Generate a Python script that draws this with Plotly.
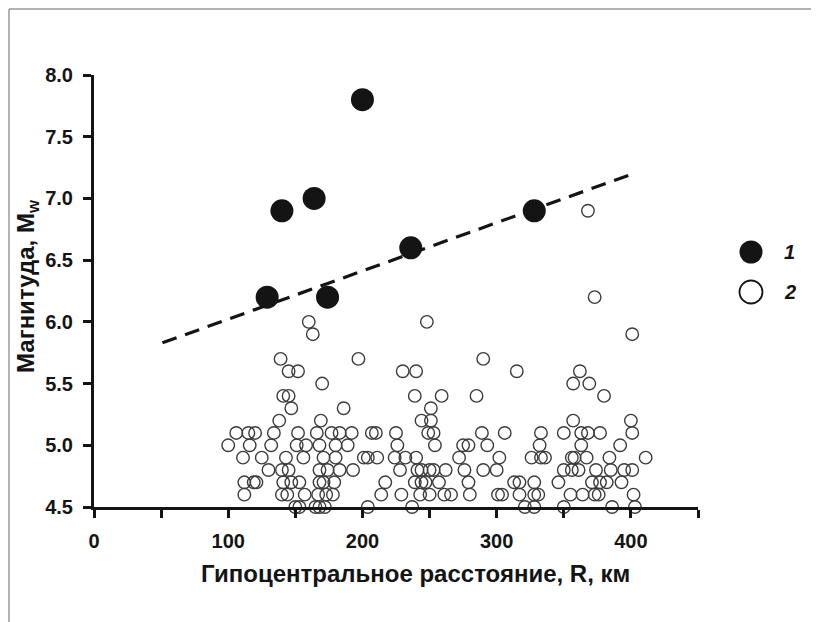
import plotly.graph_objects as go

# Series 1: strong earthquakes (filled)
r1 = [129, 140, 164, 174, 200, 236, 328]
m1 = [6.2, 6.9, 7.0, 6.2, 7.8, 6.6, 6.9]

# Series 2: other events (open circles)
r2 = [368, 373, 160, 248, 163, 401, 139, 197, 290,
      145, 152, 230, 240, 315, 362, 170, 357, 369,
      141, 145, 239, 259, 285, 380, 147, 186, 251,
      138, 169, 244, 251, 357, 400,
      106, 115, 120, 134, 152, 166, 177, 183, 192, 207, 210, 225, 249, 253, 289, 306, 333, 350, 363, 368, 377, 401,
      100, 116, 132, 151, 158, 168, 180, 189, 226, 254, 275, 279, 293, 332, 363, 392,
      111, 125, 143, 156, 171, 180, 201, 204, 211, 224, 232, 240, 272, 302, 326, 333, 336, 356, 358, 367, 384, 411,
      130, 140, 145, 168, 174, 183, 193, 228, 241, 244, 250, 253, 262, 276, 290, 300, 350, 356, 361, 374, 385, 395, 401,
      112, 119, 121, 141, 147, 153, 168, 171, 179, 217, 239, 244, 247, 257, 279, 313, 317, 328, 346, 371, 377, 382, 393,
      112, 140, 144, 157, 167, 173, 178, 214, 229, 243, 250, 261, 266, 280, 301, 304, 317, 328, 331, 355, 364, 373, 376, 402,
      150, 153, 165, 168, 172, 204, 237, 321, 328, 350, 386, 403]
m2 = [6.9, 6.2, 6.0, 6.0, 5.9, 5.9, 5.7, 5.7, 5.7,
      5.6, 5.6, 5.6, 5.6, 5.6, 5.6, 5.5, 5.5, 5.5,
      5.4, 5.4, 5.4, 5.4, 5.4, 5.4, 5.3, 5.3, 5.3,
      5.2, 5.2, 5.2, 5.2, 5.2, 5.2,
      5.1, 5.1, 5.1, 5.1, 5.1, 5.1, 5.1, 5.1, 5.1, 5.1, 5.1, 5.1, 5.1, 5.1, 5.1, 5.1, 5.1, 5.1, 5.1, 5.1, 5.1, 5.1,
      5.0, 5.0, 5.0, 5.0, 5.0, 5.0, 5.0, 5.0, 5.0, 5.0, 5.0, 5.0, 5.0, 5.0, 5.0, 5.0,
      4.9, 4.9, 4.9, 4.9, 4.9, 4.9, 4.9, 4.9, 4.9, 4.9, 4.9, 4.9, 4.9, 4.9, 4.9, 4.9, 4.9, 4.9, 4.9, 4.9, 4.9, 4.9,
      4.8, 4.8, 4.8, 4.8, 4.8, 4.8, 4.8, 4.8, 4.8, 4.8, 4.8, 4.8, 4.8, 4.8, 4.8, 4.8, 4.8, 4.8, 4.8, 4.8, 4.8, 4.8, 4.8,
      4.7, 4.7, 4.7, 4.7, 4.7, 4.7, 4.7, 4.7, 4.7, 4.7, 4.7, 4.7, 4.7, 4.7, 4.7, 4.7, 4.7, 4.7, 4.7, 4.7, 4.7, 4.7, 4.7,
      4.6, 4.6, 4.6, 4.6, 4.6, 4.6, 4.6, 4.6, 4.6, 4.6, 4.6, 4.6, 4.6, 4.6, 4.6, 4.6, 4.6, 4.6, 4.6, 4.6, 4.6, 4.6, 4.6, 4.6,
      4.5, 4.5, 4.5, 4.5, 4.5, 4.5, 4.5, 4.5, 4.5, 4.5, 4.5, 4.5]

# Trend line endpoints
line_r = [51, 404]
line_m = [5.83, 7.21]

x_tickvals = [0, 50, 100, 150, 200, 250, 300, 350, 400, 450]
x_ticktext = ["0", "", "100", "", "200", "", "300", "", "400", ""]
y_tickvals = [4.5, 5.0, 5.5, 6.0, 6.5, 7.0, 7.5, 8.0]

legend_labels = ["1", "2"]
x_title = "Гипоцентральное расстояние, R, км"
y_title = "Магнитуда, M<sub>w</sub>"

FONT = "Liberation Sans, Arial, sans-serif"
INK = "#141414"

fig = go.Figure()
fig.add_trace(go.Scatter(
    x=r2, y=m2, mode="markers", cliponaxis=False, showlegend=False,
    marker=dict(symbol="circle-open", size=12.5, color="#3c3c3c", line=dict(width=1.4, color="#3c3c3c")),
))
fig.add_trace(go.Scatter(
    x=line_r, y=line_m, mode="lines", showlegend=False,
    line=dict(color=INK, width=3.2, dash="15px,9px"),
))
fig.add_trace(go.Scatter(
    x=r1, y=m1, mode="markers", cliponaxis=False, showlegend=False,
    marker=dict(symbol="circle", size=23, color=INK),
))

# The page body has an 8px margin; work in window pixels and convert.
OFF = 8
W, H = 819 - OFF, 622 - OFF
L, R, T, B = 94.0 - OFF, 698.0 - OFF, 75.0 - OFF, 507.0 - OFF
pw, ph = R - L, B - T

def px2paper_x(px):
    return (px - OFF - L) / pw

def px2paper_y(py):
    return (B - (py - OFF)) / ph

shapes = []
annotations = []
# manual legend
leg_x = px2paper_x(751)
for i, (lab, py) in enumerate(zip(legend_labels, [252, 292])):
    shapes.append(dict(
        type="circle", xref="paper", yref="paper", xsizemode="pixel", ysizemode="pixel",
        xanchor=leg_x, yanchor=px2paper_y(py), x0=-11.5, x1=11.5, y0=-11.5, y1=11.5,
        fillcolor=INK if i == 0 else "rgba(0,0,0,0)",
        line=dict(color=INK, width=0 if i == 0 else 1.8),
    ))
    annotations.append(dict(
        x=px2paper_x(782), y=px2paper_y(py), xref="paper", yref="paper",
        text="<b><i>%s</i></b>" % lab, showarrow=False, xanchor="left", yanchor="middle",
        font=dict(family=FONT, size=20, color=INK),
    ))

# axis titles
annotations.append(dict(
    x=px2paper_x(415), y=px2paper_y(573), xref="paper", yref="paper",
    text="<b>%s</b>" % x_title, showarrow=False, xanchor="center", yanchor="middle",
    font=dict(family=FONT, size=24, color=INK),
))
annotations.append(dict(
    x=px2paper_x(27), y=px2paper_y(286), xref="paper", yref="paper",
    text="<b>%s</b>" % y_title, showarrow=False, xanchor="center", yanchor="middle",
    textangle=-90, font=dict(family=FONT, size=24, color=INK),
))

# outer frame (left, top, right)
for (x0, y0, x1, y1) in [(9, 622, 9, 9), (9, 9, 815, 9), (815, 9, 815, 622)]:
    shapes.append(dict(
        type="line", xref="paper", yref="paper",
        x0=px2paper_x(x0), x1=px2paper_x(x1), y0=px2paper_y(y0), y1=px2paper_y(y1),
        line=dict(color="#9a9a9a", width=1.5), layer="below",
    ))

fig.update_layout(
    width=W, height=H,
    margin=dict(l=L, r=W - R, t=T, b=H - B, pad=0),
    paper_bgcolor="white", plot_bgcolor="white",
    font=dict(family=FONT, size=17, color=INK),
    shapes=shapes, annotations=annotations,
    xaxis=dict(
        range=[0, 450], tickmode="array", tickvals=x_tickvals, ticktext=x_ticktext,
        showgrid=False, zeroline=False, showline=True, linecolor=INK, linewidth=3,
        ticks="outside", ticklen=8, tickwidth=2.5, tickcolor=INK, automargin=False,
        ticklabelstandoff=6,
        tickfont=dict(family=FONT, size=20, color=INK, weight="bold"),
    ),
    yaxis=dict(
        range=[4.5, 8.0], tickmode="array", tickvals=y_tickvals, tickformat=".1f",
        showgrid=False, zeroline=False, showline=True, linecolor=INK, linewidth=3,
        ticks="outside", ticklen=8, tickwidth=2.5, tickcolor=INK, automargin=False,
        ticklabelstandoff=6,
        tickfont=dict(family=FONT, size=20, color=INK, weight="bold"),
    ),
)

fig.write_html("out.html")
